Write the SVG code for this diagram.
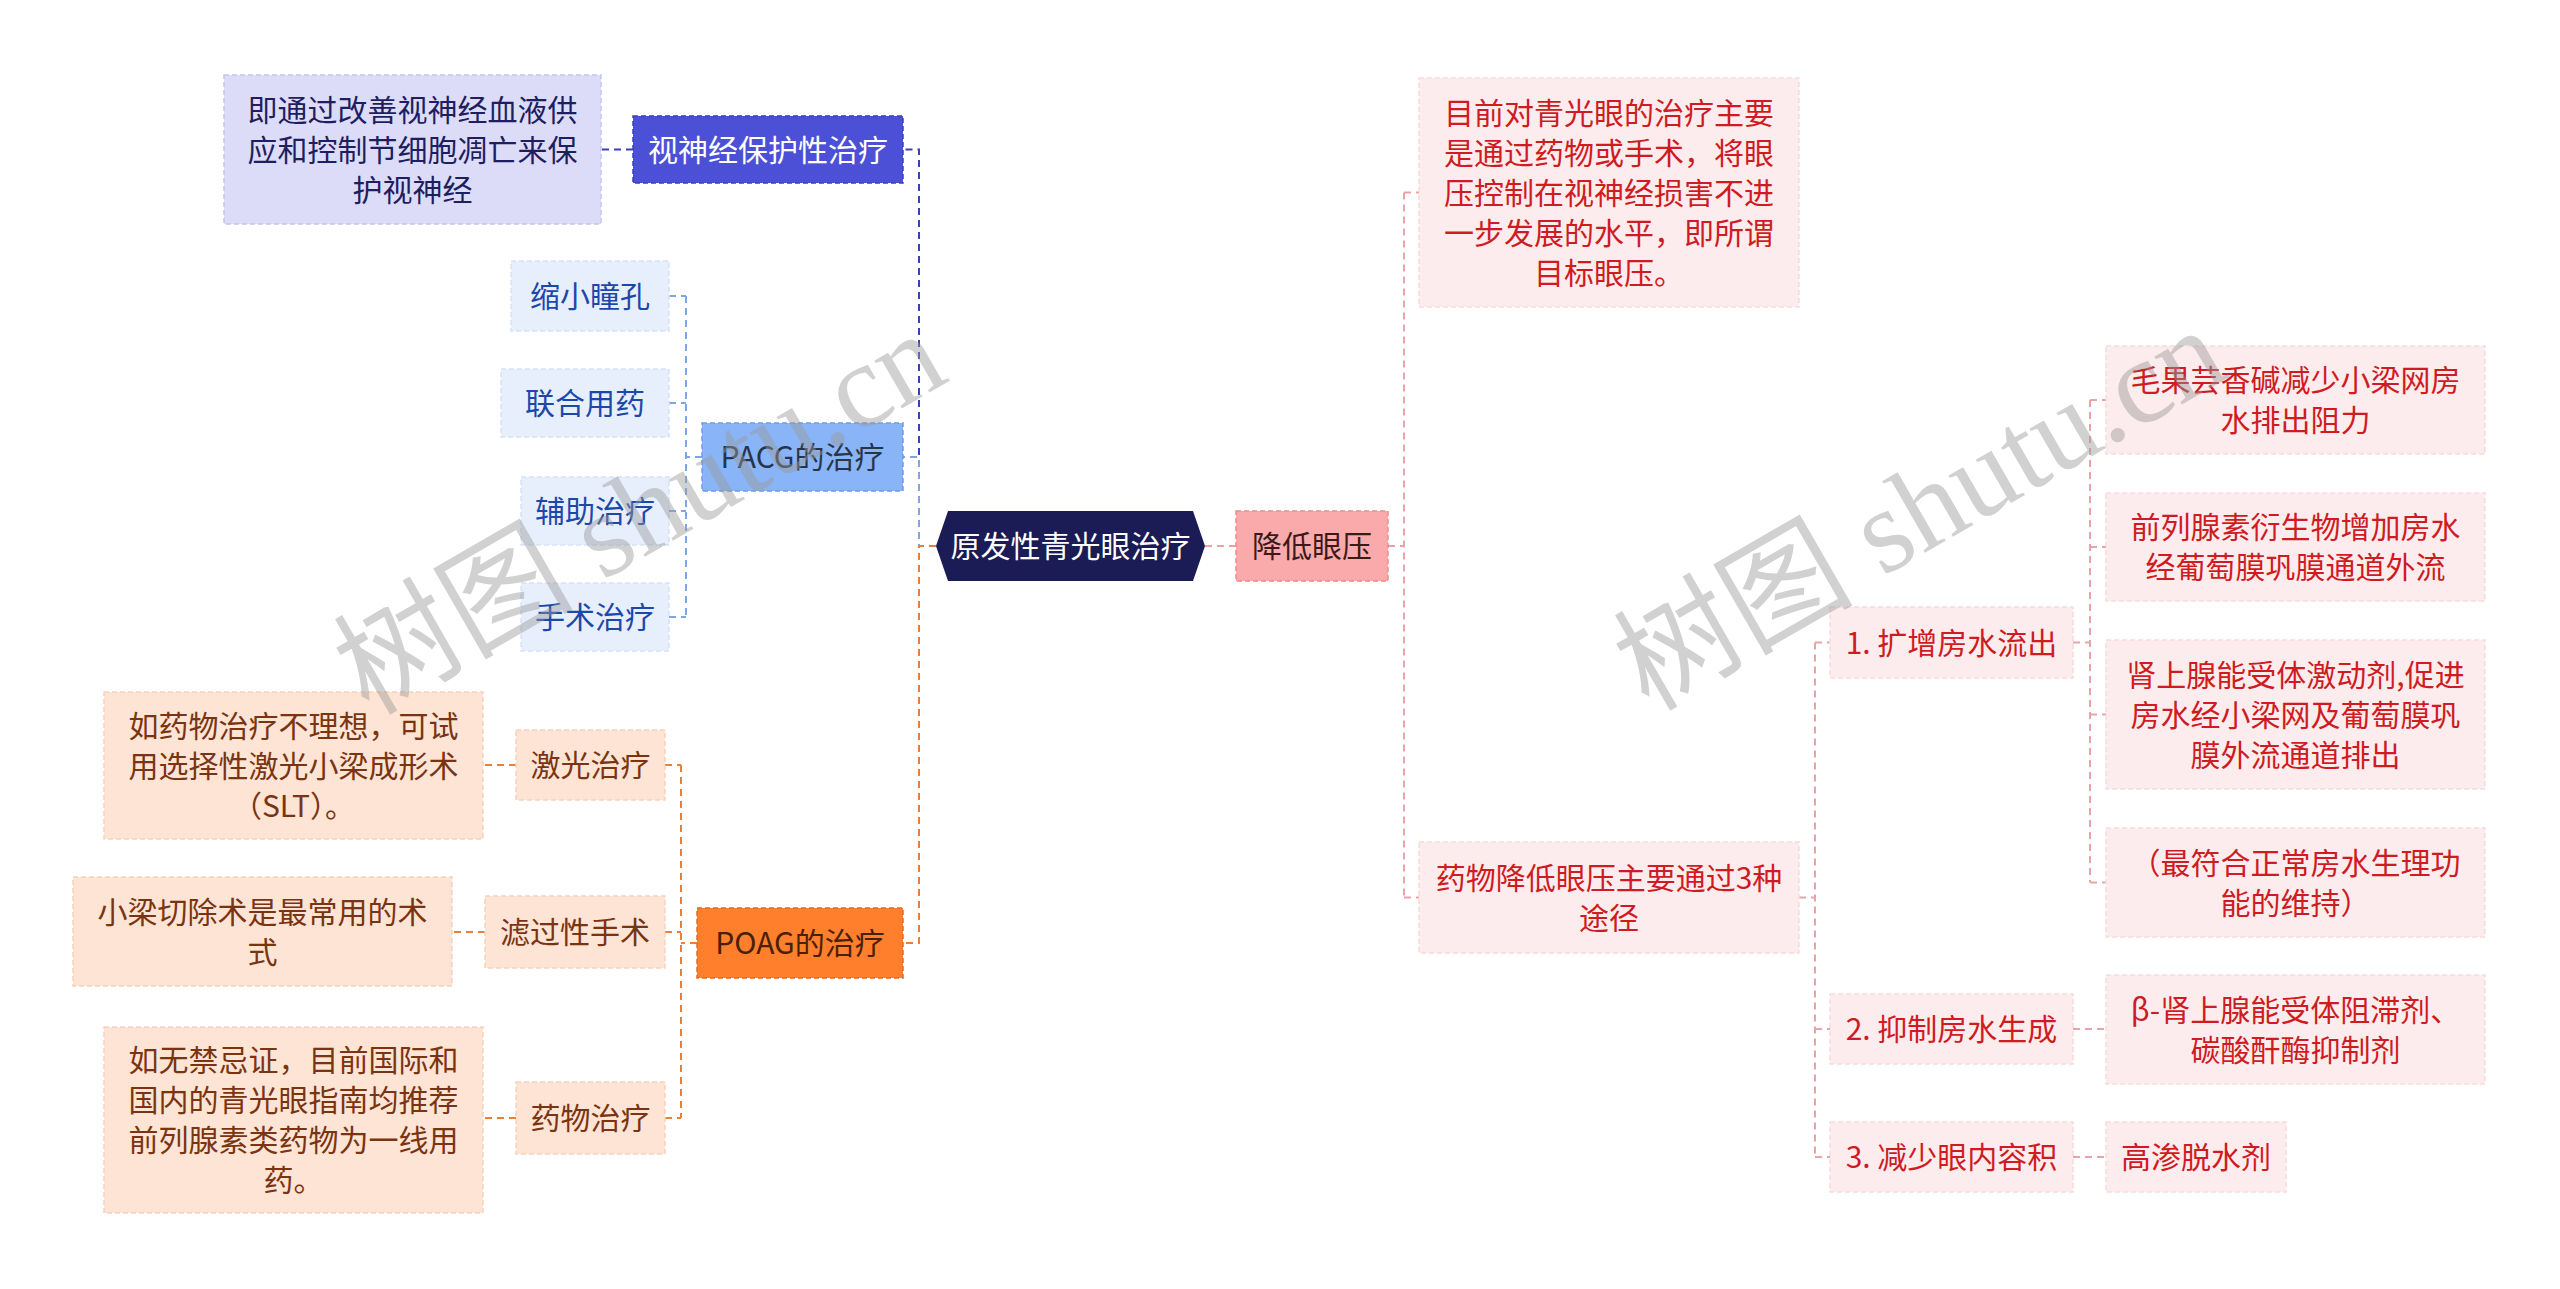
<svg xmlns="http://www.w3.org/2000/svg" width="2560" height="1289" viewBox="0 0 2560 1289">
<style>
text{font-family:"Noto Sans CJK SC","Noto Sans",sans-serif;font-size:30px;text-anchor:middle;dominant-baseline:central}
g[id^="n-"] text{transform:translateY(-2px)}
.conn path{fill:none;stroke-width:2;stroke-dasharray:7 5}
.nv{stroke:#3b40b8}.lb{stroke:#7ea6e2}.or{stroke:#e9803a}.pk{stroke:#e9a3a6}
.b1{fill:#dcdcf8;stroke:#c4c4ee}.t1{fill:#1e1e60}
.b2{fill:#4b50d6;stroke:#3a3fb8}.t2{fill:#ffffff}
.b3{fill:#8ab4f8;stroke:#6f9ae6}.t3{fill:#283448}
.b4{fill:#e7effd;stroke:#d6e2f8}.t4{fill:#1c48aa}
.b5{fill:#ff7f2c;stroke:#e86a1c}.t5{fill:#4a2008}
.b6{fill:#fde4d4;stroke:#f5d2bc}.t6{fill:#7a3412}
.b7{fill:#faaaaa;stroke:#f08c8c}.t7{fill:#3c1a1a}
.b8{fill:#fdeced;stroke:#f6dcdd}.t8{fill:#cf1b22}
rect{stroke-width:1.5;stroke-dasharray:5 3}
.wm{font-family:"Liberation Serif","Noto Sans CJK SC",serif;font-size:120px;fill:#9a9a9a;fill-opacity:0.45;text-anchor:middle;dominant-baseline:auto}
</style>
<g id="connectors" class="conn">
<path class="nv" d="M936 546 H919 V149.5 H903"/>
<path class="nv" d="M633 149.5 H601"/>
<path class="lb" d="M936 546 H919 V457 H903"/>
<path class="lb" d="M702 457 H686 M686 296 V617 M669 296 H686 M669 403 H686 M669 511 H686 M669 617 H686"/>
<path class="or" d="M936 546 H919 V943 H903"/>
<path class="or" d="M697 943 H681 M681 765 V1118 M665 765 H681 M665 932 H681 M665 1118 H681"/>
<path class="or" d="M516 765 H483 M485 932 H452 M516 1118 H483"/>
<path class="pk" d="M1205 546 H1236"/>
<path class="pk" d="M1388 546 H1404 M1404 192.5 V897.5 M1404 192.5 H1419 M1404 897.5 H1419"/>
<path class="pk" d="M1799 897.5 H1815 M1815 642.5 V1157 M1815 642.5 H1830 M1815 1029 H1830 M1815 1157 H1830"/>
<path class="pk" d="M2073 642.5 H2090 M2090 400 V882.5 M2090 400 H2106 M2090 547 H2106 M2090 714.5 H2106 M2090 882.5 H2106"/>
<path class="pk" d="M2073 1029 H2106 M2073 1157 H2106"/>
</g>
<g id="n-root">
<polygon points="936,546 948,511 1193,511 1205,546 1193,581 948,581" fill="#1b1b56"/>
<text x="1070.5" y="546" fill="#ffffff">原发性青光眼治疗</text>
</g>
<g id="n-shenjing">
<rect class="b2" x="633" y="116" width="270" height="67"/>
<text class="t2" x="768" y="149.5">视神经保护性治疗</text>
</g>
<g id="n-shenjing-desc">
<rect class="b1" x="224" y="75" width="377" height="149"/>
<text class="t1" x="412.5" y="109.5">即通过改善视神经血液供</text>
<text class="t1" x="412.5" y="149.5">应和控制节细胞凋亡来保</text>
<text class="t1" x="412.5" y="189.5">护视神经</text>
</g>
<g id="n-pacg">
<rect class="b3" x="702" y="423" width="201" height="68"/>
<text class="t3" x="802.5" y="457">PACG的治疗</text>
</g>
<g id="n-suoxiao">
<rect class="b4" x="511" y="261" width="158" height="70"/>
<text class="t4" x="590" y="296">缩小瞳孔</text>
</g>
<g id="n-lianhe">
<rect class="b4" x="501" y="369" width="168" height="68"/>
<text class="t4" x="585" y="403">联合用药</text>
</g>
<g id="n-fuzhu">
<rect class="b4" x="521" y="477" width="148" height="68"/>
<text class="t4" x="595" y="511">辅助治疗</text>
</g>
<g id="n-shoushu">
<rect class="b4" x="521" y="583" width="148" height="68"/>
<text class="t4" x="595" y="617">手术治疗</text>
</g>
<g id="n-poag">
<rect class="b5" x="697" y="908" width="206" height="70"/>
<text class="t5" x="800" y="943">POAG的治疗</text>
</g>
<g id="n-jiguang">
<rect class="b6" x="516" y="730" width="149" height="70"/>
<text class="t6" x="590.5" y="765">激光治疗</text>
</g>
<g id="n-jiguang-desc">
<rect class="b6" x="104" y="692" width="379" height="147"/>
<text class="t6" x="293.5" y="725.5">如药物治疗不理想，可试</text>
<text class="t6" x="293.5" y="765.5">用选择性激光小梁成形术</text>
<text class="t6" x="293.5" y="805.5">（SLT）。</text>
</g>
<g id="n-lvguo">
<rect class="b6" x="485" y="896" width="180" height="72"/>
<text class="t6" x="575" y="932">滤过性手术</text>
</g>
<g id="n-lvguo-desc">
<rect class="b6" x="73" y="877" width="379" height="109"/>
<text class="t6" x="262.5" y="911.5">小梁切除术是最常用的术</text>
<text class="t6" x="262.5" y="951.5">式</text>
</g>
<g id="n-yaowu">
<rect class="b6" x="516" y="1082" width="149" height="72"/>
<text class="t6" x="590.5" y="1118">药物治疗</text>
</g>
<g id="n-yaowu-desc">
<rect class="b6" x="104" y="1027" width="379" height="186"/>
<text class="t6" x="293.5" y="1060">如无禁忌证，目前国际和</text>
<text class="t6" x="293.5" y="1100">国内的青光眼指南均推荐</text>
<text class="t6" x="293.5" y="1140">前列腺素类药物为一线用</text>
<text class="t6" x="293.5" y="1180">药。</text>
</g>
<g id="n-jiangdi">
<rect class="b7" x="1236" y="511" width="152" height="70"/>
<text class="t7" x="1312" y="546">降低眼压</text>
</g>
<g id="n-muqian">
<rect class="b8" x="1419" y="78" width="380" height="229"/>
<text class="t8" x="1609" y="112.5">目前对青光眼的治疗主要</text>
<text class="t8" x="1609" y="152.5">是通过药物或手术，将眼</text>
<text class="t8" x="1609" y="192.5">压控制在视神经损害不进</text>
<text class="t8" x="1609" y="232.5">一步发展的水平，即所谓</text>
<text class="t8" x="1609" y="272.5">目标眼压。</text>
</g>
<g id="n-yaowujiangdi">
<rect class="b8" x="1419" y="842" width="380" height="111"/>
<text class="t8" x="1609" y="877.5">药物降低眼压主要通过3种</text>
<text class="t8" x="1609" y="917.5">途径</text>
</g>
<g id="n-kuozeng">
<rect class="b8" x="1830" y="607" width="243" height="71"/>
<text class="t8" x="1951.5" y="642.5">1. 扩增房水流出</text>
</g>
<g id="n-yizhi">
<rect class="b8" x="1830" y="994" width="243" height="70"/>
<text class="t8" x="1951.5" y="1029">2. 抑制房水生成</text>
</g>
<g id="n-jianshao">
<rect class="b8" x="1830" y="1122" width="243" height="70"/>
<text class="t8" x="1951.5" y="1157">3. 减少眼内容积</text>
</g>
<g id="n-maoguo">
<rect class="b8" x="2106" y="346" width="379" height="108"/>
<text class="t8" x="2295.5" y="380">毛果芸香碱减少小梁网房</text>
<text class="t8" x="2295.5" y="420">水排出阻力</text>
</g>
<g id="n-qianlie">
<rect class="b8" x="2106" y="493" width="379" height="108"/>
<text class="t8" x="2295.5" y="527">前列腺素衍生物增加房水</text>
<text class="t8" x="2295.5" y="567">经葡萄膜巩膜通道外流</text>
</g>
<g id="n-shenshang">
<rect class="b8" x="2106" y="640" width="379" height="149"/>
<text class="t8" x="2295.5" y="674.5">肾上腺能受体激动剂,促进</text>
<text class="t8" x="2295.5" y="714.5">房水经小梁网及葡萄膜巩</text>
<text class="t8" x="2295.5" y="754.5">膜外流通道排出</text>
</g>
<g id="n-zuifuhe">
<rect class="b8" x="2106" y="828" width="379" height="109"/>
<text class="t8" x="2295.5" y="862.5">（最符合正常房水生理功</text>
<text class="t8" x="2295.5" y="902.5">能的维持）</text>
</g>
<g id="n-beta">
<rect class="b8" x="2106" y="975" width="379" height="109"/>
<text class="t8" x="2295.5" y="1009.5">β-肾上腺能受体阻滞剂、</text>
<text class="t8" x="2295.5" y="1049.5">碳酸酐酶抑制剂</text>
</g>
<g id="n-gaoshen">
<rect class="b8" x="2106" y="1122" width="180" height="70"/>
<text class="t8" x="2196" y="1157">高渗脱水剂</text>
</g>
<g id="watermark">
<text class="wm" transform="translate(660,548) rotate(-30)">树图 shutu.cn</text>
<text class="wm" transform="translate(1940,544) rotate(-30)">树图 shutu.cn</text>
</g>
</svg>
